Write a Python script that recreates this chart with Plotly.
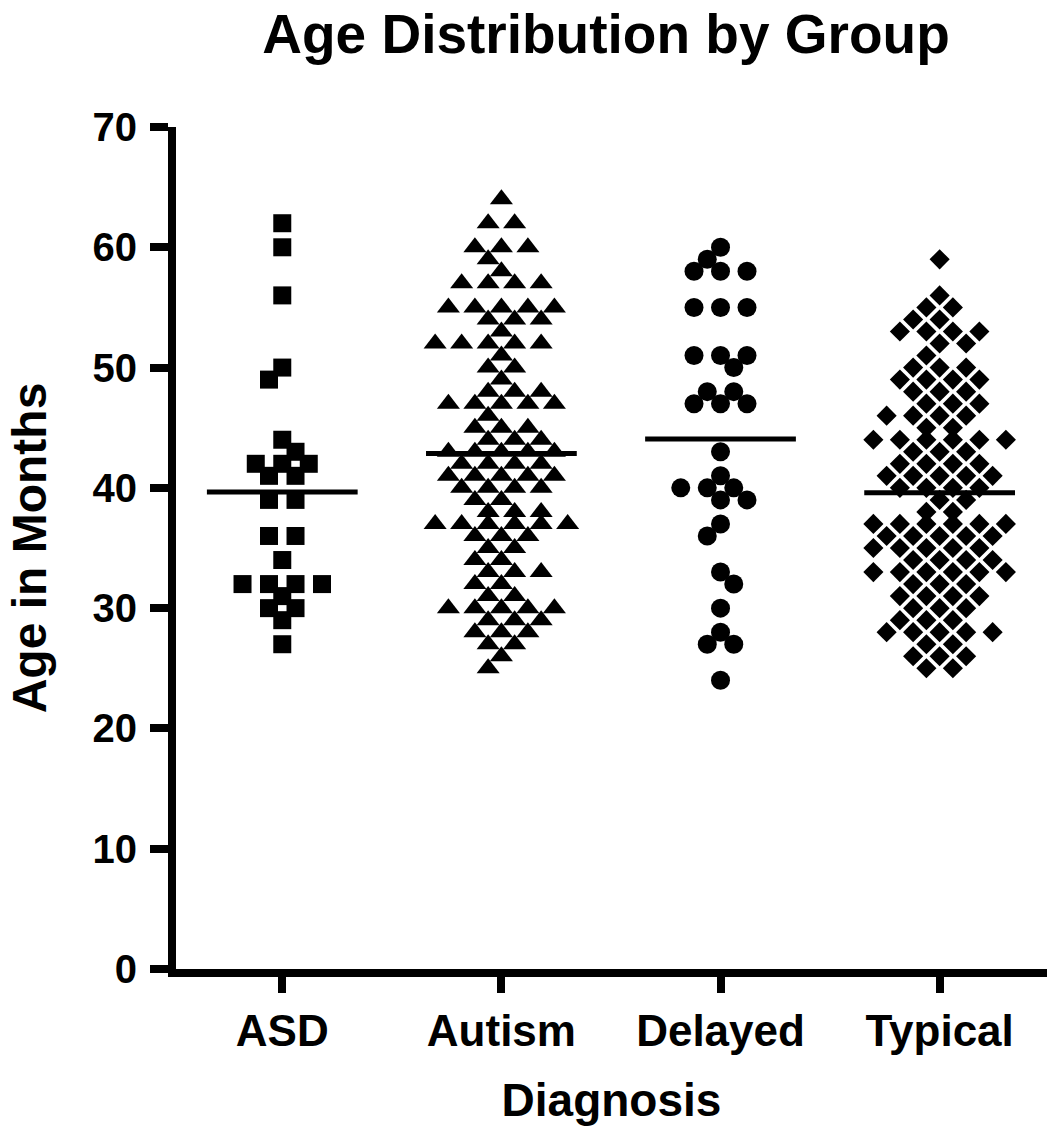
import plotly.graph_objects as go
from collections import Counter

# ---------------- data ----------------
categories = ["ASD", "Autism", "Delayed", "Typical"]

asd = [62, 60, 56, 50, 49, 44, 43, 42, 42, 42, 41, 41, 39, 39, 36, 36, 34,
       32, 32, 32, 32, 31, 30, 30, 29, 27]

autism = [64, 62, 62, 60, 60, 60, 59, 58, 57, 57, 57, 57,
          55, 55, 55, 55, 55, 54, 54, 54, 53, 52, 52, 52, 52, 52, 51,
          50, 50, 49, 48, 48, 48, 47, 47, 47, 47, 47, 46, 45, 45, 45,
          44, 44, 44, 43, 43, 43, 43, 43, 42, 42, 42, 42,
          41, 41, 41, 41, 41, 40, 40, 40, 40, 39, 39, 38, 38, 38,
          37, 37, 37, 37, 37, 37, 36, 36, 36, 35, 35, 34, 34, 33, 33, 33,
          32, 32, 31, 31, 30, 30, 30, 30, 30, 29, 29, 29, 28, 28, 28,
          27, 27, 26, 25]

delayed = [60, 59, 58, 58, 58, 55, 55, 55, 51, 51, 51, 50, 48, 48, 47, 47, 47,
           43, 41, 40, 40, 40, 39, 39, 37, 36, 33, 32, 30, 28, 27, 27, 24]

typical = [59, 56, 55, 55, 54, 54, 53, 53, 53, 53, 52, 52, 51, 50, 50, 50,
           49, 49, 49, 49, 48, 48, 48, 47, 47, 47, 46, 46, 46, 46, 45, 45,
           44, 44, 44, 44, 44, 44, 43, 43, 43, 42, 42, 42, 42,
           41, 41, 41, 41, 41, 40, 40, 40, 40, 39, 39, 38, 38,
           37, 37, 37, 37, 37, 37, 36, 36, 36, 36, 36, 35, 35, 35, 35, 35,
           34, 34, 34, 34, 33, 33, 33, 33, 33, 33, 32, 32, 32,
           31, 31, 31, 31, 30, 30, 30, 29, 29, 29,
           28, 28, 28, 28, 28, 27, 27, 26, 26, 26, 25, 25]

y_ticks = [0, 10, 20, 30, 40, 50, 60, 70]

# ---------------- layout constants ----------------
W, H = 1047, 1126
M_L, M_R, M_T, M_B = 176, 0, 127, 157
X_RANGE = [-0.485, 3.49]
Y_RANGE = [0, 70]
FONT = "Liberation Sans, Arial, Helvetica, sans-serif"

px_per_x = (W - M_L - M_R) / (X_RANGE[1] - X_RANGE[0])
px_per_y = (H - M_T - M_B) / (Y_RANGE[1] - Y_RANGE[0])
SLOT_PX = 26.5
MAX_HALF_PX = 67


def swarm(values, rx=20.0, ry=15.0):
    """Deterministic column-scatter layout: every row of equal values is
    spread symmetrically; a row may be nudged half a slot to interleave
    with the rows already placed (least overlap wins), as long as the
    row stays inside the column width."""
    counts = Counter(values)
    placed = []
    offsets, ys = [], []
    flip = -1
    for v in sorted(counts, reverse=True):
        n = counts[v]
        base = [k - (n - 1) / 2 for k in range(n)]
        yp = v * px_per_y
        best, best_pen = None, None
        for cc in (0.0, flip * 0.5, -flip * 0.5):
            offs = [b + cc for b in base]
            if cc != 0 and max(abs(o) for o in offs) * SLOT_PX > MAX_HALF_PX:
                continue
            pen = 0.0
            for o in offs:
                for (qx, qy) in placed:
                    d = ((o * SLOT_PX - qx) / rx) ** 2 + ((yp - qy) / ry) ** 2
                    if d < 1:
                        pen += 1 - d
            if best_pen is None or pen < best_pen - 1e-9:
                best, best_pen = (cc, offs), pen
        cc, offs = best
        if cc != 0:
            flip = -flip
        for o in offs:
            placed.append((o * SLOT_PX, yp))
            offsets.append(o * SLOT_PX / px_per_x)
            ys.append(v)
    return offsets, ys


groups = [asd, autism, delayed, typical]
symbols = ["square", "triangle-up", "circle", "diamond"]
sizes = [18, 20, 19, 15.5]

fig = go.Figure()
for i, (vals, sym, sz) in enumerate(zip(groups, symbols, sizes)):
    offs, ys = swarm(vals)
    fig.add_trace(go.Scatter(
        x=[i + o for o in offs], y=ys, mode="markers",
        marker=dict(symbol=sym, size=sz, color="black", line=dict(width=0)),
        showlegend=False, hoverinfo="y"))
    mean = sum(vals) / len(vals)
    fig.add_trace(go.Scatter(
        x=[i - 0.344, i + 0.344], y=[mean, mean], mode="lines",
        line=dict(color="black", width=5), showlegend=False, hoverinfo="y"))

fig.update_layout(
    width=W, height=H,
    margin=dict(l=M_L, r=M_R, t=M_T, b=M_B, pad=0),
    paper_bgcolor="white", plot_bgcolor="white",
    font=dict(family=FONT, color="black"),
    title=dict(text="Age Distribution by Group", x=606 / W, xanchor="center",
               xref="container", yref="container", y=1 - 34 / H, yanchor="middle",
               font=dict(family=FONT, size=55, weight="bold", color="black")),
    xaxis=dict(range=X_RANGE, tickmode="array", tickvals=list(range(len(categories))),
               ticktext=categories, showgrid=False, zeroline=False,
               showline=True, linewidth=8, linecolor="black",
               ticks="outside", ticklen=16, tickwidth=8, tickcolor="black",
               tickfont=dict(family=FONT, size=44, weight="bold"),
               title=dict(text="Diagnosis", standoff=33,
                          font=dict(family=FONT, size=46, weight="bold")),
               automargin=False, fixedrange=True),
    yaxis=dict(range=Y_RANGE, tickmode="array", tickvals=y_ticks,
               showgrid=False, zeroline=False,
               showline=True, linewidth=8, linecolor="black",
               ticks="outside", ticklen=18, tickwidth=8, tickcolor="black",
               tickfont=dict(family=FONT, size=40, weight="bold"),
               ticklabelstandoff=5,
               title=dict(text="Age in Months", standoff=34,
                          font=dict(family=FONT, size=48, weight="bold")),
               automargin=False, fixedrange=True),
)

fig.write_html("out.html", config={"displayModeBar": False},
               post_script="document.body.style.margin='0';")
